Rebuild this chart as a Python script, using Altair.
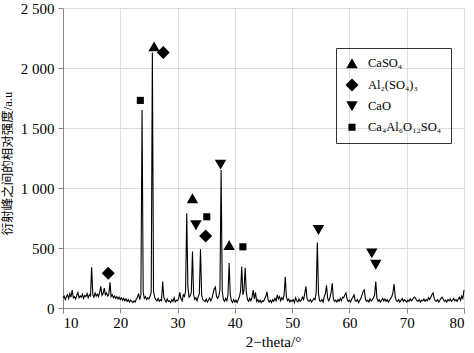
import altair as alt
import pandas as pd

# XRD trace: intensity read at 0.2 degree steps from 10.0 to 80.0 (2-theta)
theta_start = 10.0
theta_step = 0.2
intensity = [
    85, 100, 70, 95, 110,      # 10
    80, 120, 90, 150, 85,      # 11
    95, 75, 105, 130, 85,      # 12
    100, 90, 115, 80, 105,     # 13
    95, 120, 85, 110, 100,     # 14
    340, 110, 90, 125, 100,    # 15
    115, 95, 130, 180, 105,    # 16
    120, 165, 110, 125, 100,   # 17
    115, 215, 95, 110, 85,     # 18
    100, 80, 95, 75, 90,       # 19
    70, 85, 65, 80, 60,        # 20
    75, 55, 70, 50, 65,        # 21
    55, 45, 60, 50, 75,        # 22
    90, 120, 70, 110, 1650,    # 23
    130, 80, 95, 70, 85,       # 24
    75, 100, 130, 2130, 140,   # 25
    90, 70, 60, 80, 55,        # 26
    70, 60, 220, 90, 65,       # 27
    50, 75, 55, 60, 45,        # 28
    70, 55, 85, 50, 65,        # 29
    60, 80, 130, 75, 60,       # 30
    110, 95, 140, 790, 180,    # 31
    90, 100, 130, 470, 110,    # 32
    70, 85, 60, 95, 120,       # 33
    490, 110, 70, 60, 55,      # 34
    75, 50, 65, 85, 60,        # 35
    80, 120, 160, 175, 95,     # 36
    80, 100, 150, 1150, 140,   # 37
    70, 55, 80, 60, 110,       # 38
    375, 110, 60, 45, 70,      # 39
    50, 65, 45, 70, 95,        # 40
    140, 345, 110, 150, 335,   # 41
    130, 70, 55, 80, 60,       # 42
    90, 150, 75, 130, 55,      # 43
    70, 50, 65, 45, 60,        # 44
    55, 75, 95, 135, 70,       # 45
    50, 65, 45, 70, 55,        # 46
    80, 60, 110, 75, 95,       # 47
    60, 85, 70, 110, 260,      # 48
    90, 60, 75, 50, 65,        # 49
    55, 70, 45, 85, 60,        # 50
    50, 75, 55, 65, 90,        # 51
    70, 120, 180, 80, 60,      # 52
    55, 70, 50, 65, 80,        # 53
    70, 130, 545, 120, 60,     # 54
    55, 70, 50, 95, 120,       # 55
    190, 80, 60, 85, 130,      # 56
    205, 75, 55, 65, 50,       # 57
    70, 55, 80, 60, 90,        # 58
    85, 110, 125, 70, 55,      # 59
    65, 50, 75, 90, 110,       # 60
    60, 55, 70, 45, 65,        # 61
    80, 110, 140, 150, 70,     # 62
    55, 65, 50, 75, 60,        # 63
    70, 85, 110, 220, 80,      # 64
    55, 70, 50, 65, 80,        # 65
    60, 75, 55, 70, 50,        # 66
    65, 80, 95, 130, 200,      # 67
    90, 60, 55, 70, 50,        # 68
    65, 80, 55, 70, 60,        # 69
    50, 65, 55, 75, 60,        # 70
    70, 85, 90, 75, 60,        # 71
    55, 70, 50, 65, 60,        # 72
    75, 55, 70, 60, 85,        # 73
    70, 90, 110, 125, 80,      # 74
    60, 55, 70, 50, 65,        # 75
    80, 90, 70, 55, 65,        # 76
    50, 70, 60, 75, 55,        # 77
    65, 80, 60, 70, 55,        # 78
    75, 90, 65, 100, 80,       # 79
    150,                       # 80
]
theta = [round(theta_start + theta_step * i, 1) for i in range(len(intensity))]

# Phase markers
phases = ["CaSO₄", "Al₂(SO₄)₃", "CaO", "Ca₄Al₆O₁₂SO₄"]
marker_phase = ["CaSO₄", "CaSO₄", "CaSO₄",
                "Al₂(SO₄)₃", "Al₂(SO₄)₃", "Al₂(SO₄)₃",
                "CaO", "CaO", "CaO", "CaO", "CaO",
                "Ca₄Al₆O₁₂SO₄", "Ca₄Al₆O₁₂SO₄", "Ca₄Al₆O₁₂SO₄"]
marker_theta = [25.9, 32.6, 39.0,
                27.5, 17.9, 34.9,
                37.5, 33.2, 54.6, 63.9, 64.6,
                23.5, 35.1, 41.4]
marker_int = [2180, 915, 525,
              2130, 290, 600,
              1195, 690, 650, 455, 360,
              1730, 760, 510]

shape_range = ["triangle-up", "diamond", "triangle-down", "square"]
size_range = [130, 170, 130, 50]

x_ticks = [10, 15, 20, 25, 30, 35, 40, 45, 50, 55, 60, 65, 70, 75, 80]
y_ticks = [0, 250, 500, 750, 1000, 1250, 1500, 1750, 2000, 2250, 2500]

line_df = pd.DataFrame({"theta": theta, "intensity": intensity})
mark_df = pd.DataFrame({"phase": marker_phase, "theta": marker_theta, "intensity": marker_int})

FONT = "Liberation Serif"

x_enc = alt.X(
    "theta:Q",
    scale=alt.Scale(domain=[10, 80], nice=False, zero=False),
    axis=alt.Axis(
        values=x_ticks,
        labelExpr="datum.value % 10 === 0 ? datum.label : ''",
        tickSize={"condition": {"test": "datum.value % 10 === 0", "value": 5}, "value": 3},
        labelOverlap=False,
        labelPadding=2,
        labelFont=FONT, labelFontSize=15,
        title="2−theta/°",
        titleX=210, titleY=33, titleBaseline="middle", titleAlign="center",
        titleFont=FONT, titleFontSize=15, titleFontWeight="normal",
    ),
)
y_enc = alt.Y(
    "intensity:Q",
    scale=alt.Scale(domain=[0, 2500], nice=False),
    axis=alt.Axis(
        values=y_ticks,
        labelExpr="datum.value % 500 === 0 ? replace(format(datum.value, ','), ',', ' ') : ''",
        tickSize={"condition": {"test": "datum.value % 500 === 0", "value": 5}, "value": 3},
        labelOverlap=False,
        labelPadding=4,
        labelFont=FONT, labelFontSize=15,
        title="衍射峰之间的相对强度/a.u",
        titleAngle=270, titleX=-56, titleY=155, titleBaseline="middle", titleAlign="center",
        titleFontSize=12.5, titleFontWeight="normal",
        titleFont="Liberation Serif, Noto Sans CJK SC",
    ),
)

line = alt.Chart(line_df).mark_line(color="black", strokeWidth=1.1).encode(x=x_enc, y=y_enc)

leg = dict(
    title=None, orient="none", legendX=273, legendY=40,
    strokeColor="#333", padding=9, rowPadding=8,
    labelFont=FONT, labelFontSize=12.5, labelColor="black", labelOffset=9,
    symbolFillColor="black", symbolStrokeWidth=0, symbolOpacity=1,
)

points = alt.Chart(mark_df).mark_point(filled=True, color="black", opacity=1, strokeWidth=0).encode(
    x="theta:Q",
    y="intensity:Q",
    shape=alt.Shape("phase:N", scale=alt.Scale(domain=phases, range=shape_range), legend=alt.Legend(**leg)),
    size=alt.Size("phase:N", scale=alt.Scale(type="ordinal", domain=phases, range=size_range),
                  legend=alt.Legend(**leg)),
)

chart = (
    alt.layer(line, points)
    .properties(width=401, height=300, autosize=alt.AutoSizeParams(type="none"),
                padding={"left": 63, "top": 8, "right": 10, "bottom": 45})
    .configure_view(stroke=None)
    .configure_axis(
        grid=False, labelFont=FONT, labelFontSize=15, labelColor="black",
        titleFont=FONT, titleColor="black", domainColor="#333", tickColor="#333",
        domainWidth=1, tickWidth=1,
    )
    .configure(background="white", font=FONT)
)

chart.save("out.html", embed_options={"renderer": "svg", "actions": False})
